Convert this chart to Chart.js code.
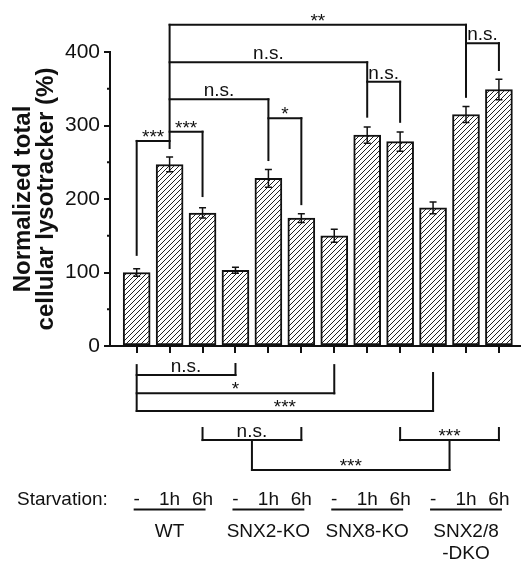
<!DOCTYPE html>
<html><head><meta charset="utf-8">
<script src="https://cdn.jsdelivr.net/npm/chart.js@4/dist/chart.umd.min.js"></script>
<style>html,body{margin:0;padding:0;background:#fff}#c{display:block}</style>
</head><body>
<canvas id="c" width="523" height="561"></canvas>
<script>
// ---------- data ----------
const starvation = ['-', '1h', '6h', '-', '1h', '6h', '-', '1h', '6h', '-', '1h', '6h'];
const groupNames = [['WT'], ['SNX2-KO'], ['SNX8-KO'], ['SNX2/8', '-DKO']];
const groupFirst = [0, 3, 6, 9];
const groupLast = [2, 5, 8, 11];
const means = [100, 247, 181, 103, 228, 174, 150, 287, 278, 188, 315, 349];
const errors = [5, 10, 7, 4, 12, 6, 9, 11, 13, 8, 11, 14];
const yAxisTitle = ['Normalized total', 'cellular lysotracker (%)'];
const rowLabel = 'Starvation:';
// significance brackets: horizontal bar (bar index from/to, value) and label
const sigBars = [
  {from: 1, to: 10, y: 437, label: '**'},
  {from: 1, to: 7, y: 386, label: 'n.s.'},
  {from: 1, to: 4, y: 335.6, label: 'n.s.'},
  {from: 0, to: 1, y: 279, label: '***'},
  {from: 1, to: 2, y: 291.6, label: '***'},
  {from: 4, to: 5, y: 310, label: '*'},
  {from: 7, to: 8, y: 359.6, label: 'n.s.'},
  {from: 10, to: 11, y: 412, label: 'n.s.'},
  {from: 0, to: 3, y: -39.5, label: 'n.s.'},
  {from: 0, to: 6, y: -64.4, label: '*'},
  {from: 0, to: 9, y: -88.4, label: '***'},
  {from: 2, to: 5, y: -128, label: 'n.s.'},
  {from: 8, to: 11, y: -128, label: '***'},
  {from: 3.5, to: 9.5, y: -168.7, label: '***'}
];
// vertical legs: [bar index, value from, value to]
const sigLegs = [
  [1, 437, 269.4], [10, 437, 339], [7, 386, 312], [4, 335.6, 253], [0, 279, 124],
  [2, 291.6, 204], [5, 310, 193], [8, 359.6, 305], [11, 412, 375.5],
  [0, -26, -88.4], [3, -24.5, -39.5], [6, -26, -64.4], [9, -36.7, -88.4],
  [2, -111.6, -128], [5, -111.6, -128], [8, -111.6, -128], [11, -111.6, -128],
  [3.5, -128, -168.7], [9.5, -128, -168.7]
];

// ---------- style ----------
const FONT = "'Liberation Sans', Arial, sans-serif";
const INK = '#111';

function hatch() {
  const s = 5;
  const p = document.createElement('canvas');
  p.width = s; p.height = s;
  const g = p.getContext('2d');
  g.fillStyle = '#fff'; g.fillRect(0, 0, s, s);
  g.strokeStyle = '#222'; g.lineWidth = 1;
  g.beginPath();
  g.moveTo(-1, s + 1); g.lineTo(s + 1, -1);
  g.moveTo(-1, 1); g.lineTo(1, -1);
  g.moveTo(s - 1, s + 1); g.lineTo(s + 1, s - 1);
  g.stroke();
  return document.getElementById('c').getContext('2d').createPattern(p, 'repeat');
}

const extras = {
  id: 'extras',
  afterDatasetsDraw(chart) {
    const ctx = chart.ctx;
    const xs = chart.scales.x, ys = chart.scales.y;
    ctx.save();
    ctx.strokeStyle = INK; ctx.fillStyle = INK;
    // error bars
    ctx.lineWidth = 1.5;
    chart.getDatasetMeta(0).data.forEach((bar, i) => {
      const x = bar.x;
      const t = ys.getPixelForValue(means[i] + errors[i]);
      const b = ys.getPixelForValue(means[i] - errors[i]);
      ctx.beginPath();
      ctx.moveTo(x, t); ctx.lineTo(x, b);
      ctx.moveTo(x - 3.5, t); ctx.lineTo(x + 3.5, t);
      ctx.moveTo(x - 3.5, b); ctx.lineTo(x + 3.5, b);
      ctx.stroke();
    });
    // minor y ticks
    ctx.lineWidth = 2;
    [50, 150, 250, 350].forEach(v => {
      const y = ys.getPixelForValue(v);
      ctx.beginPath(); ctx.moveTo(xs.left - 3, y); ctx.lineTo(xs.left, y); ctx.stroke();
    });
    // significance brackets
    ctx.lineWidth = 2;
    ctx.lineCap = 'square';
    sigLegs.forEach(([i, a, b]) => {
      const x = xs.getPixelForValue(i);
      ctx.beginPath(); ctx.moveTo(x, ys.getPixelForValue(a)); ctx.lineTo(x, ys.getPixelForValue(b)); ctx.stroke();
    });
    ctx.textAlign = 'center';
    ctx.textBaseline = 'alphabetic';
    ctx.font = '19px ' + FONT;
    sigBars.forEach(s => {
      const x1 = xs.getPixelForValue(s.from), x2 = xs.getPixelForValue(s.to);
      const y = ys.getPixelForValue(s.y);
      ctx.beginPath(); ctx.moveTo(x1, y); ctx.lineTo(x2, y); ctx.stroke();
      const isStar = s.label.indexOf('*') >= 0;
      ctx.fillText(s.label, (x1 + x2) / 2, isStar ? y + 2 : y - 3);
    });
    // starvation row
    ctx.textAlign = 'left';
    ctx.fillText(rowLabel, 17, 505);
    ctx.textAlign = 'center';
    starvation.forEach((t, i) => ctx.fillText(t, xs.getPixelForValue(i), 505));
    // group lines and labels
    ctx.lineCap = 'butt';
    groupNames.forEach((names, g) => {
      const x1 = xs.getPixelForValue(groupFirst[g]) - 3;
      const x2 = xs.getPixelForValue(groupLast[g]) + 3;
      ctx.beginPath(); ctx.moveTo(x1, 509.5); ctx.lineTo(x2, 509.5); ctx.stroke();
      const cx = xs.getPixelForValue((groupFirst[g] + groupLast[g]) / 2);
      names.forEach((n, k) => ctx.fillText(n, cx, 537 + k * 22));
    });
    ctx.restore();
  }
};

new Chart(document.getElementById('c'), {
  type: 'bar',
  data: {
    datasets: [{
      data: means.map((v, i) => ({x: i, y: v})),
      backgroundColor: hatch(),
      borderColor: INK,
      borderWidth: 2,
      borderSkipped: false,
      barThickness: 27
    }]
  },
  options: {
    responsive: false,
    animation: false,
    devicePixelRatio: 1,
    layout: {padding: {top: 52, right: 3, left: 0, bottom: 0}},
    plugins: {legend: {display: false}, tooltip: {enabled: false}},
    scales: {
      x: {
        type: 'linear',
        min: -0.81, max: 11.64,
        offset: false,
        afterBuildTicks: s => { s.ticks = starvation.map((_, i) => ({value: i})); },
        afterFit: s => { s.height = 215; s.paddingLeft = 0; s.paddingRight = 0; },
        grid: {display: true, offset: false, drawOnChartArea: false, tickLength: 7, color: INK, lineWidth: 2},
        border: {display: true, color: INK, width: 2},
        ticks: {display: false}
      },
      y: {
        min: 0, max: 400,
        afterFit: s => { s.width = 110; },
        grid: {display: true, drawOnChartArea: false, tickLength: 6, color: INK, lineWidth: 2},
        border: {display: true, color: INK, width: 2},
        ticks: {stepSize: 100, padding: 4, color: INK, font: {family: FONT, size: 21}},
        title: {
          display: true, text: yAxisTitle, color: INK,
          font: {family: FONT, size: 24, weight: 'bold', lineHeight: 0.95},
          padding: {top: 12, bottom: 0}
        }
      }
    }
  },
  plugins: [extras]
});
</script>
</body></html>
